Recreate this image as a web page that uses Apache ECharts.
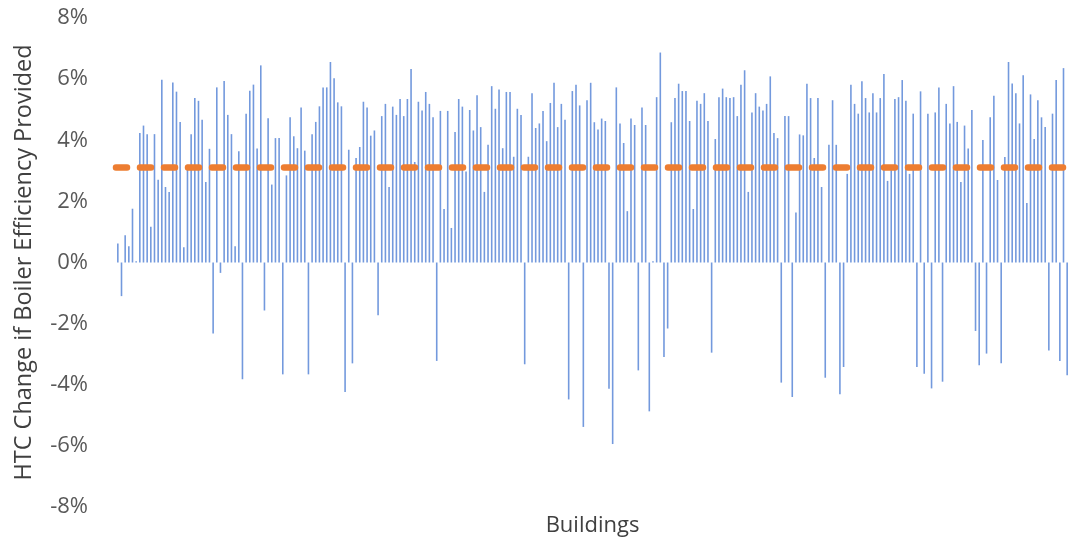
<!DOCTYPE html>
<html>
<head>
<meta charset="utf-8">
<script src="https://cdn.jsdelivr.net/npm/echarts@6/dist/echarts.min.js"></script>
<style>
html,body{margin:0;padding:0;background:#fff;}
#chart{width:1069px;height:542px;}
</style>
</head>
<body>
<div id="chart"></div>
<script>
// HTC change (%) per building, read left to right in groups
const group1 = [0.62,-1.10,0.89,0.53,1.76,0.04,4.24,4.48,4.20,1.17,4.20,2.71,5.98,2.47,2.31,5.89,5.59,4.60,0.50,3.20,4.20,5.38,5.29,4.67,2.63,3.72,-2.32,5.73,-0.34,5.94,4.83];
const group2 = [4.20,0.53,3.64,-3.82,4.87,5.62,5.82,3.73,6.45,-1.57,4.72,2.55,4.07,4.07,-3.66,2.85,4.75,4.13,3.74,5.07,3.66,-3.66,4.20,4.60,5.11,5.73,5.73,6.56,6.03,5.24,5.11,-4.24];
const group3 = [3.69,-3.30,3.42,3.78,5.26,5.07,4.15,4.32,-1.73,4.79,5.19,2.47,5.10,4.83,5.35,4.79,5.35,6.33,3.29,5.26,4.97,5.58,5.19,4.75,-3.22,4.96,1.75,4.96,1.13,4.27,5.35];
const group4 = [5.10,2.98,4.99,4.32,5.47,4.43,2.31,3.85,5.77,5.03,5.66,3.74,5.58,5.58,3.46,5.03,4.83,-3.33,3.46,5.54,4.40,4.55,4.96,3.97,5.22,5.88,4.43,5.19,4.67,-4.48,5.61];
const group5 = [5.82,5.14,-5.38,5.31,5.88,4.59,4.35,4.71,4.63,-4.13,-5.94,5.73,4.55,3.91,1.68,4.71,4.50,-3.53,5.07,4.50,-4.87,0.04,5.41,6.87,-3.09,-2.16,4.59,5.38,5.85,5.61,5.61];
const group6 = [4.63,1.75,5.29,5.19,5.54,4.63,-2.95,4.04,5.41,5.69,5.41,5.38,5.41,4.79,5.82,6.29,2.31,4.91,5.54,5.10,4.97,5.19,6.09,4.24,4.07,-3.93,4.79,4.79,-4.40,1.64,4.19,4.16];
const group7 = [5.85,5.38,3.42,5.38,2.47,-3.77,3.85,5.31,3.85,-4.31,-3.42,2.90,5.82,5.19,4.87,5.93,5.38,4.91,5.54,4.91,5.38,6.17,2.67,3.02,5.35,5.41,5.97,5.29,2.90,4.87,-3.42];
const group8 = [5.60,-3.64,4.87,-4.12,4.91,5.73,-3.90,5.19,4.55,5.77,4.60,2.63,4.48,3.73,4.99,-2.24,-3.36,4.01,-2.98,4.75,5.46,2.70,-3.30,3.45,6.56,5.86,5.54,4.55,6.13,1.95,5.50,4.04,5.31,4.75,4.43,-2.88,4.87,5.97,-3.22,6.36,-3.69];
const averageChange = 3.13;
const yTicks = [-8,-6,-4,-2,0,2,4,6,8];

const values = [].concat(group1, group2, group3, group4, group5, group6, group7, group8);
const buildings = values.map((v, i) => 'B' + (i + 1));

const chart = echarts.init(document.getElementById('chart'), null, {renderer: 'canvas'});
const FONT = 'Open Sans';
chart.setOption({
  animation: false,
  backgroundColor: '#ffffff',
  grid: {left: 116, right: 0, top: 18, bottom: 35, containLabel: false},
  xAxis: {
    type: 'category',
    data: buildings,
    name: 'Buildings',
    nameLocation: 'middle',
    nameGap: 8,
    nameTextStyle: {fontFamily: FONT, fontSize: 22, color: '#404040'},
    axisLine: {show: false, onZero: false},
    axisTick: {show: false},
    axisLabel: {show: false},
    splitLine: {show: false}
  },
  yAxis: {
    type: 'value',
    min: yTicks[0],
    max: yTicks[yTicks.length - 1],
    interval: 2,
    name: 'HTC Change if Boiler Efficiency Provided',
    nameLocation: 'middle',
    nameGap: 80,
    nameTextStyle: {fontFamily: FONT, fontSize: 23.5, color: '#404040'},
    axisLine: {show: false},
    axisTick: {show: false},
    splitLine: {show: false},
    axisLabel: {
      margin: 28,
      fontFamily: FONT,
      fontSize: 22,
      color: '#595959',
      formatter: v => v + '%'
    }
  },
  series: [{
    type: 'bar',
    data: values,
    barWidth: 1.6,
    itemStyle: {color: '#7399DD'},
    markLine: {
      silent: true,
      symbol: ['none', 'none'],
      label: {show: false},
      lineStyle: {color: '#ED7D31', width: 6.5, type: [11, 13], cap: 'round', opacity: 1},
      data: [{yAxis: averageChange}]
    }
  }]
});
</script>
</body>
</html>
